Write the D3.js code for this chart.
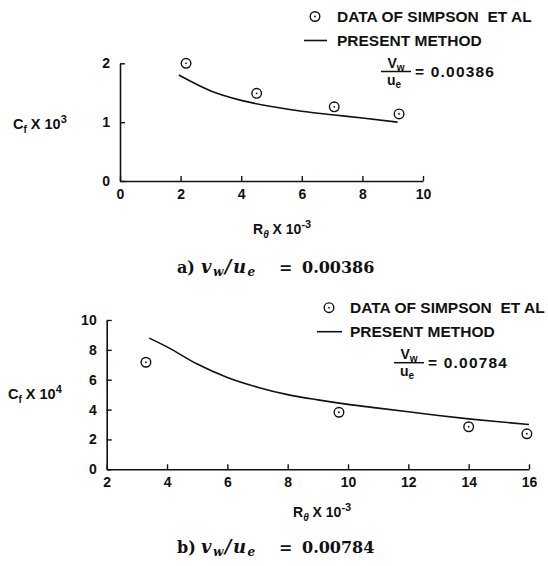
<!DOCTYPE html>
<html>
<head>
<meta charset="utf-8">
<script src="https://cdn.jsdelivr.net/npm/d3@7"></script>
<style>
  body { margin: 0; background: #fff; }
  svg text { font-family: "Liberation Sans", Arial, sans-serif; fill: #111; }
  .tick text { font-size: 14px; font-weight: bold; }
  .cap { font-family: "DejaVu Serif", "Liberation Serif", serif; font-weight: bold; font-size: 16px; }
</style>
</head>
<body>
<div id="chart"></div>
<script>
// panel a) vw/ue = 0.00386
var xTicksA = [0, 2, 4, 6, 8, 10];
var yTicksA = [0, 1, 2];
var dataA_x = [2.18, 4.51, 7.07, 9.21];
var dataA_y = [2.0, 1.49, 1.26, 1.14];
var lineA_x = [1.94, 3, 4, 5, 6, 7, 8, 9.16];
var lineA_y = [1.80, 1.53, 1.37, 1.265, 1.185, 1.125, 1.07, 1.0];

// panel b) vw/ue = 0.00784
var xTicksB = [2, 4, 6, 8, 10, 12, 14, 16];
var yTicksB = [0, 2, 4, 6, 8, 10];
var dataB_x = [3.30, 9.70, 14.0, 15.93];
var dataB_y = [7.17, 3.82, 2.85, 2.38];
var lineB_x = [3.41, 4, 5, 6, 7, 8, 9, 10, 11, 12, 13, 14, 15, 16];
var lineB_y = [8.79, 8.2, 7.05, 6.15, 5.5, 5.0, 4.65, 4.35, 4.1, 3.85, 3.6, 3.38, 3.18, 3.0];

var svg = d3.select("#chart").append("svg")
  .attr("width", 548)
  .attr("height", 566);

function marker(g, cx, cy) {
  g.append("circle").attr("cx", cx).attr("cy", cy).attr("r", 4.8)
    .attr("fill", "none").attr("stroke", "#111").attr("stroke-width", 1.4);
  g.append("circle").attr("cx", cx).attr("cy", cy).attr("r", 0.9).attr("fill", "#111");
}

function panel(p) {
  var x = d3.scaleLinear().domain(p.xdom).range(p.xr);
  var y = d3.scaleLinear().domain(p.ydom).range(p.yr);
  var g = svg.append("g");

  g.append("g")
    .attr("transform", "translate(0," + p.yr[0] + ")")
    .call(d3.axisBottom(x).tickValues(p.xt).tickSizeInner(-5).tickSizeOuter(0).tickPadding(8).tickFormat(d3.format("d")));
  g.append("g")
    .attr("transform", "translate(" + p.xr[0] + ",0)")
    .call(d3.axisLeft(y).tickValues(p.yt).tickSizeInner(-5).tickSizeOuter(0).tickPadding(10).tickFormat(d3.format("d")));
  g.selectAll(".domain").attr("stroke", "#111").attr("stroke-width", 1.6);
  g.selectAll(".tick line").attr("stroke", "#111").attr("stroke-width", 1.4);

  var pts = p.lx.map(function(v, i) { return [v, p.ly[i]]; });
  g.append("path")
    .datum(pts)
    .attr("fill", "none")
    .attr("stroke", "#111")
    .attr("stroke-width", 1.6)
    .attr("d", d3.line()
      .x(function(d) { return x(d[0]); })
      .y(function(d) { return y(d[1]); })
      .curve(d3.curveMonotoneX));

  p.dx.forEach(function(v, i) { marker(g, x(v), y(p.dy[i])); });

  // legend
  var L = p.leg;
  marker(g, L.cx, L.cy);
  g.append("text").attr("x", L.tx).attr("y", L.cy + 5.5).attr("font-size", 15.5).attr("font-weight", "bold")
    .style("white-space", "pre").text("DATA OF SIMPSON  ET AL");
  g.append("line").attr("x1", L.lx0).attr("x2", L.lx1).attr("y1", L.cy + 24).attr("y2", L.cy + 24)
    .attr("stroke", "#111").attr("stroke-width", 1.6);
  g.append("text").attr("x", L.tx).attr("y", L.cy + 29.5).attr("font-size", 15.5).attr("font-weight", "bold")
    .text("PRESENT METHOD");

  // vw / ue fraction
  var fb = L.cy + 55;
  var t1 = g.append("text").attr("x", L.fx + 15).attr("y", fb - 4).attr("text-anchor", "middle")
    .attr("font-size", 14).attr("font-weight", "bold");
  t1.append("tspan").text("V");
  t1.append("tspan").attr("font-size", 10).attr("dy", 3).text("w");
  g.append("line").attr("x1", L.fx).attr("x2", L.fx + 30).attr("y1", fb).attr("y2", fb)
    .attr("stroke", "#111").attr("stroke-width", 1.5);
  var t2 = g.append("text").attr("x", L.fx + 13).attr("y", fb + 13).attr("text-anchor", "middle")
    .attr("font-size", 14).attr("font-weight", "bold");
  t2.append("tspan").text("u");
  t2.append("tspan").attr("font-size", 10).attr("dy", 3).text("e");
  g.append("text").attr("x", L.fx + 34).attr("y", fb + 5.5).attr("font-size", 15.5).attr("font-weight", "bold")
    .attr("letter-spacing", 1.2).text("= " + p.ratio);

  // axis titles
  var yt = g.append("text").attr("x", p.ylx).attr("y", p.yly).attr("font-size", 14.5).attr("font-weight", "bold");
  yt.append("tspan").text("C");
  yt.append("tspan").attr("font-size", 10).attr("dy", 4).text("f");
  yt.append("tspan").attr("dy", -4).text(" X 10");
  yt.append("tspan").attr("font-size", 11).attr("dy", -6).text(p.yexp);

  var xt = g.append("text").attr("x", p.xlx).attr("y", p.xly).attr("font-size", 14).attr("font-weight", "bold");
  xt.append("tspan").text("R");
  xt.append("tspan").attr("font-size", 10).attr("dy", 4).attr("font-style", "italic").text("\u03b8");
  xt.append("tspan").attr("dy", -4).text(" X 10");
  xt.append("tspan").attr("font-size", 11).attr("dy", -6).text("-3");

  // caption
  g.append("text").attr("class", "cap").attr("x", 177).attr("y", p.capy).text(p.letter + ")");
  var c = g.append("text").attr("class", "cap").attr("x", 201).attr("y", p.capy)
    .attr("font-style", "italic").attr("letter-spacing", 1.5);
  c.append("tspan").attr("font-size", 18).text("v");
  c.append("tspan").attr("font-size", 12).attr("dy", 3).text("w");
  c.append("tspan").attr("font-size", 18).attr("dy", -3).text("/u");
  c.append("tspan").attr("font-size", 12).attr("dy", 3).text("e");
  g.append("text").attr("class", "cap").attr("x", 279).attr("y", p.capy).text("=");
  g.append("text").attr("class", "cap").attr("x", 302).attr("y", p.capy).text(p.ratio);
}

panel({
  xdom: [0, 10], xr: [120, 423], ydom: [0, 2], yr: [181, 63.3],
  xt: xTicksA, yt: yTicksA,
  dx: dataA_x, dy: dataA_y, lx: lineA_x, ly: lineA_y,
  leg: { cx: 315, cy: 16.5, tx: 337, lx0: 304, lx1: 327, fx: 381 },
  ratio: "0.00386", yexp: "3",
  ylx: 13, yly: 129, xlx: 253, xly: 234,
  capy: 273, letter: "a"
});

panel({
  xdom: [2, 16], xr: [106.7, 529], ydom: [0, 10], yr: [469.3, 320],
  xt: xTicksB, yt: yTicksB,
  dx: dataB_x, dy: dataB_y, lx: lineB_x, ly: lineB_y,
  leg: { cx: 329, cy: 307.7, tx: 350, lx0: 317, lx1: 342, fx: 394 },
  ratio: "0.00784", yexp: "4",
  ylx: 8, yly: 399, xlx: 293, xly: 517,
  capy: 553, letter: "b"
});
</script>
</body>
</html>
